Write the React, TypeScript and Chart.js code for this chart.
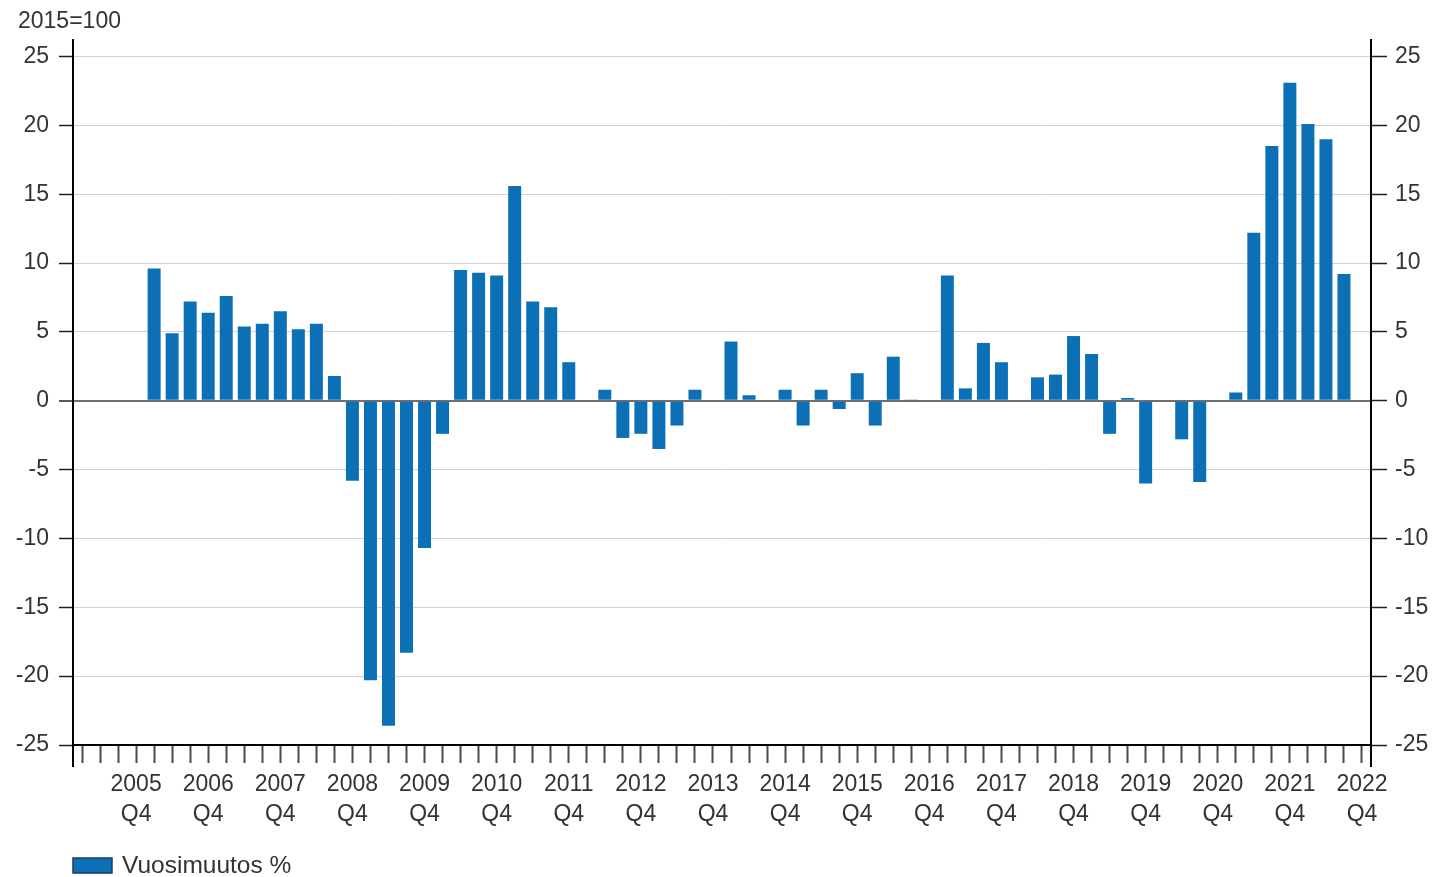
import React, { useEffect, useRef } from 'react';
import { Chart, registerables } from 'chart.js';

Chart.register(...registerables);

const years = [2005, 2006, 2007, 2008, 2009, 2010, 2011, 2012, 2013, 2014, 2015, 2016, 2017, 2018, 2019, 2020, 2021, 2022];
const quarters = ['Q1', 'Q2', 'Q3', 'Q4'];
const categories = years.flatMap((y) => quarters.map((q) => `${y} ${q}`));

// Vuosimuutos % by quarter, 2005Q1 ... 2022Q4
const annualChange: (number | null)[] = [
  null, null, null, null, // 2005
  9.6, 4.9, 7.2, 6.4, // 2006
  7.6, 5.4, 5.6, 6.5, // 2007
  5.2, 5.6, 1.8, -5.8, // 2008
  -20.3, -23.6, -18.3, -10.7, // 2009
  -2.4, 9.5, 9.3, 9.1, // 2010
  15.6, 7.2, 6.8, 2.8, // 2011
  0, 0.8, -2.7, -2.4, // 2012
  -3.5, -1.8, 0.8, 0, // 2013
  4.3, 0.4, 0, 0.8, // 2014
  -1.8, 0.8, -0.6, 2.0, // 2015
  -1.8, 3.2, 0.05, 0, // 2016
  9.1, 0.9, 4.2, 2.8, // 2017
  0, 1.7, 1.9, 4.7, // 2018
  3.4, -2.4, 0.2, -6.0, // 2019
  0, -2.8, -5.9, 0, // 2020
  0.6, 12.2, 18.5, 23.1, // 2021
  20.1, 19.0, 9.2, null, // 2022
];

const yMin = -25;
const yMax = 26.2;
const yStep = 5;
const seriesLabel = 'Vuosimuutos %';
const baseLabel = '2015=100';

const BAR = '#0b70b5';
const FONT = "'Liberation Sans', Arial, sans-serif";
const TEXT = '#333333';

export default function App() {
  const ref = useRef<HTMLCanvasElement>(null);

  useEffect(() => {
    if (!ref.current) return;

    const decor = {
      id: 'decor',
      afterDraw(chart: any) {
        const { ctx, chartArea } = chart;
        ctx.save();
        ctx.strokeStyle = '#000';
        ctx.lineWidth = 2;
        ctx.beginPath();
        ctx.moveTo(chartArea.left, chartArea.bottom);
        ctx.lineTo(chartArea.left, chartArea.bottom + 22);
        ctx.moveTo(chartArea.right, chartArea.bottom);
        ctx.lineTo(chartArea.right, chartArea.bottom + 22);
        ctx.stroke();

        ctx.fillStyle = TEXT;
        ctx.font = `23px ${FONT}`;
        ctx.textBaseline = 'middle';
        ctx.textAlign = 'left';
        ctx.fillText(baseLabel, 18, 22);

        ctx.fillStyle = BAR;
        ctx.fillRect(73, 858, 39, 15);
        ctx.strokeStyle = '#1c3d63';
        ctx.lineWidth = 1.5;
        ctx.strokeRect(73, 858, 39, 15);
        ctx.fillStyle = TEXT;
        ctx.font = `24.5px ${FONT}`;
        ctx.fillText(seriesLabel, 122, 866);
        ctx.restore();
      },
    };

    const filterTicks = (scale: any) => {
      scale.ticks = scale.ticks.filter((t: any) => Math.abs(t.value % yStep) < 1e-9);
    };

    const chart = new Chart(ref.current, {
      type: 'bar',
      data: {
        labels: categories,
        datasets: [
          {
            label: seriesLabel,
            data: annualChange,
            backgroundColor: BAR,
            borderWidth: 0,
            barPercentage: 0.72,
            categoryPercentage: 1,
            yAxisID: 'y',
          },
        ],
      },
      options: {
        animation: false,
        responsive: true,
        maintainAspectRatio: false,
        layout: { padding: { top: 40, left: 0, right: 0, bottom: 0 } },
        plugins: {
          legend: { display: false },
          tooltip: { enabled: false },
        },
        scales: {
          x: {
            type: 'category',
            offset: true,
            afterFit: (scale: any) => {
              scale.height = 132;
            },
            grid: {
              offset: false,
              drawOnChartArea: false,
              drawTicks: true,
              tickLength: 18,
              tickColor: '#4a4a4a',
              tickWidth: 2,
            },
            border: { display: true, color: '#000', width: 2 },
            ticks: {
              autoSkip: false,
              maxRotation: 0,
              minRotation: 0,
              padding: 7,
              color: TEXT,
              font: { family: FONT, size: 23, lineHeight: 1.3 },
              callback: (_v: any, idx: number) =>
                idx % 4 === 3 ? [String(years[Math.floor(idx / 4)]), 'Q4'] : '',
            },
          },
          y: {
            type: 'linear',
            position: 'left',
            min: yMin,
            max: yMax,
            afterBuildTicks: filterTicks,
            afterFit: (scale: any) => {
              scale.width = 73;
            },
            grid: {
              drawOnChartArea: true,
              drawTicks: true,
              tickLength: 14,
              tickColor: '#222',
              tickWidth: 1.5,
              color: (c: any) => (c.tick && c.tick.value === 0 ? '#6f6f6f' : '#d2d2d2'),
              lineWidth: (c: any) => (c.tick && c.tick.value === 0 ? 2 : 1),
            },
            border: { display: true, color: '#000', width: 2 },
            ticks: {
              stepSize: yStep,
              includeBounds: false,
              padding: 10,
              color: TEXT,
              font: { family: FONT, size: 23 },
            },
          },
          y2: {
            type: 'linear',
            position: 'right',
            min: yMin,
            max: yMax,
            afterBuildTicks: filterTicks,
            afterFit: (scale: any) => {
              scale.width = 64;
            },
            grid: {
              drawOnChartArea: false,
              drawTicks: true,
              tickLength: 16,
              tickColor: '#222',
              tickWidth: 1.5,
            },
            border: { display: true, color: '#000', width: 2 },
            ticks: {
              stepSize: yStep,
              includeBounds: false,
              padding: 8,
              color: TEXT,
              font: { family: FONT, size: 23 },
            },
          },
        },
      },
      plugins: [decor],
    } as any);

    return () => chart.destroy();
  }, []);

  return (
    <div style={{ position: 'fixed', left: 0, top: 0, width: 1435, height: 877, background: '#fff' }}>
      <canvas ref={ref} />
    </div>
  );
}
